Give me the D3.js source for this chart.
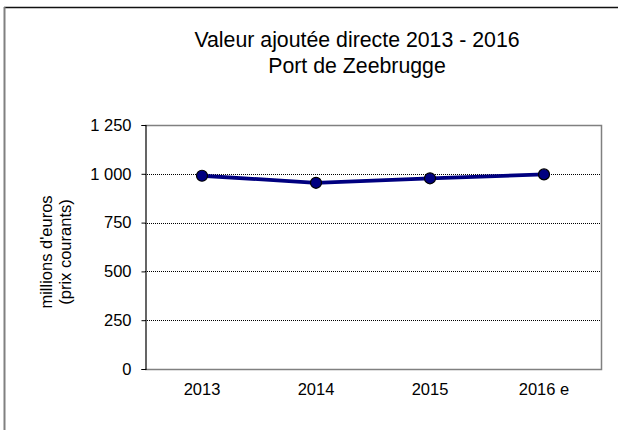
<!DOCTYPE html>
<html>
<head>
<meta charset="utf-8">
<script src="https://cdn.jsdelivr.net/npm/d3@7"></script>
<style>
  body { margin: 0; background: #fff; }
  svg text { font-family: "Liberation Sans", Arial, sans-serif; fill: #000; }
</style>
</head>
<body>
<div id="chart"></div>
<script>
// data
var years = ["2013", "2014", "2015", "2016 e"];
var valeur = [990, 954, 977, 997];
var yTicks = [0, 250, 500, 750, 1000, 1250];
var titleLines = ["Valeur ajoutée directe 2013 - 2016", "Port de Zeebrugge"];
var yLabelLines = ["millions d'euros", "(prix courants)"];

var width = 618, height = 430;
var plot = { left: 145, right: 601, top: 125, bottom: 369 };

var svg = d3.select("#chart").append("svg")
    .attr("width", width)
    .attr("height", height);

// outer frame (only top and left show)
svg.append("line")
    .attr("x1", 4).attr("x2", 618).attr("y1", 7.5).attr("y2", 7.5)
    .attr("stroke", "#111").attr("stroke-width", 1.5);
svg.append("line")
    .attr("x1", 4.5).attr("x2", 4.5).attr("y1", 7).attr("y2", height)
    .attr("stroke", "#808080").attr("stroke-width", 2);

var x = d3.scaleBand()
    .domain(years)
    .range([plot.left, plot.right]);

var y = d3.scaleLinear()
    .domain([0, 1250])
    .range([plot.bottom, plot.top]);

// gridlines
svg.append("g")
    .selectAll("line")
    .data(yTicks.filter(function(d) { return d > 0 && d < 1250; }))
    .enter().append("line")
    .attr("x1", plot.left).attr("x2", plot.right)
    .attr("y1", function(d) { return Math.round(y(d)) + 0.5; })
    .attr("y2", function(d) { return Math.round(y(d)) + 0.5; })
    .attr("stroke", "#000")
    .attr("stroke-width", 1)
    .attr("stroke-dasharray", "1,1");

// plot frame (grey top / right / bottom)
svg.append("path")
    .attr("d", "M" + plot.left + "," + (plot.top + 0.5) + "H" + (plot.right + 0.5) +
               "V" + (plot.bottom + 0.5) + "H" + plot.left)
    .attr("fill", "none")
    .attr("stroke", "#808080")
    .attr("stroke-width", 1.5);

// y axis
var yAxis = d3.axisLeft(y)
    .tickValues(yTicks)
    .tickSize(4)
    .tickPadding(10)
    .tickFormat(function(d) { return d3.format(",")(d).replace(",", " "); });

var gy = svg.append("g")
    .attr("transform", "translate(" + (plot.left + 0.5) + ",0)")
    .call(yAxis);
gy.attr("font-size", 16.5).attr("font-family", null);
gy.select(".domain").attr("stroke", "#000").attr("stroke-width", 1.2);
gy.selectAll(".tick line").attr("stroke", "#000");

// x axis labels
var xAxis = d3.axisBottom(x).tickSize(0).tickPadding(14);
var gx = svg.append("g")
    .attr("transform", "translate(0," + plot.bottom + ")")
    .call(xAxis);
gx.attr("font-size", 16.5).attr("font-family", null);
gx.select(".domain").remove();

// y label
svg.append("text")
    .attr("transform", "translate(52,252) rotate(-90)")
    .attr("text-anchor", "middle")
    .attr("font-size", 16.5)
    .selectAll("tspan")
    .data(yLabelLines)
    .enter().append("tspan")
    .attr("x", 0)
    .attr("dy", function(d, i) { return i === 0 ? 0 : 19; })
    .text(function(d) { return d; });

// title
svg.append("text")
    .attr("text-anchor", "middle")
    .attr("font-size", 21.3)
    .selectAll("tspan")
    .data(titleLines)
    .enter().append("tspan")
    .attr("x", 357)
    .attr("y", function(d, i) { return 47 + i * 26; })
    .text(function(d) { return d; });

// line + markers
var line = d3.line()
    .x(function(d, i) { return x(years[i]) + x.bandwidth() / 2; })
    .y(function(d) { return y(d); });

svg.append("path")
    .datum(valeur)
    .attr("d", line)
    .attr("fill", "none")
    .attr("stroke", "#000080")
    .attr("stroke-width", 3.8);

svg.append("g")
    .selectAll("circle")
    .data(valeur)
    .enter().append("circle")
    .attr("cx", function(d, i) { return x(years[i]) + x.bandwidth() / 2; })
    .attr("cy", function(d) { return y(d); })
    .attr("r", 5.5)
    .attr("fill", "#000080")
    .attr("stroke", "#000")
    .attr("stroke-width", 1.2);
</script>
</body>
</html>
